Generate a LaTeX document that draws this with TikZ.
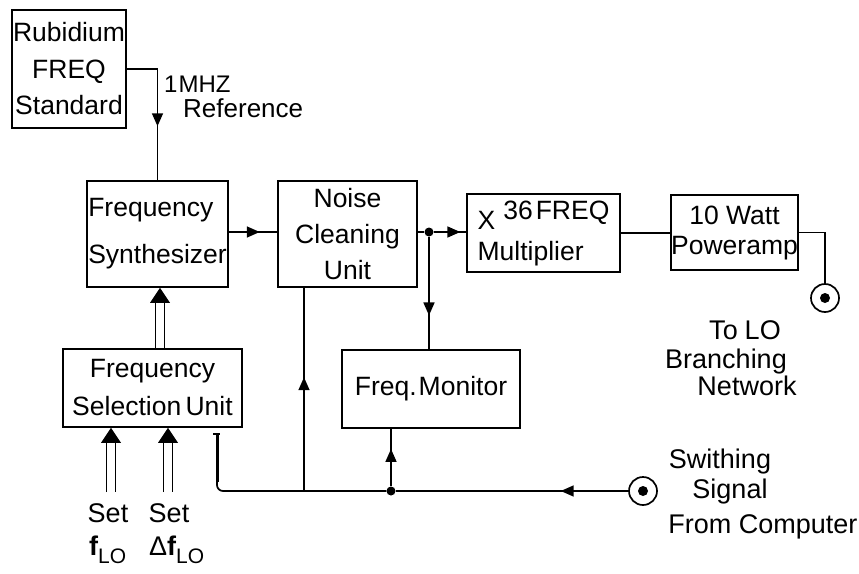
\documentclass[tikz,border=0pt]{standalone}
\usepackage{fontspec}
\setmainfont{Liberation Sans}
\usetikzlibrary{arrows.meta,decorations.markings,calc}
\tikzset{
  box/.style={draw, line width=1.7pt, inner sep=0.5pt, align=center, font=\fontsize{26.5}{#1}\selectfont},
  box/.default=37,
  wire/.style={line width=1.7pt},
  midarrow/.style={postaction={decorate}, decoration={markings, mark=at position #1 with {\arrow{Triangle[length=13pt,width=11pt]}}}},
  dotj/.style={circle, fill, inner sep=0pt, minimum size=9pt},
  jack/.style={circle, draw, line width=1.7pt, minimum size=28pt, inner sep=0pt,
    path picture={\fill (path picture bounding box.center) circle (5pt);}},
  lbl/.style={font=\fontsize{27}{30}\selectfont, inner sep=0pt},
  dbl/.style={double, double distance=7.5pt, line width=1.7pt},
}
\newcommand{\hollowup}[2]{\draw[dbl] (#1) -- ($(#2)+(0,14)$); \fill (#2) -- ++(-10,15) -- ++(20,0) -- cycle;}
\begin{document}
\begin{tikzpicture}[x=1pt,y=-1pt]
\fill[white] (0,0) rectangle (859,573);
\useasboundingbox (0,0) rectangle (859,573);

% boxes
\node[box=36.5, minimum width=114pt, minimum height=118pt] (rub) at (69,69) {Rubidium\\FREQ\\Standard};
\node[box=47, align=left, minimum width=141pt, minimum height=106pt] (syn) at (157.5,234) {Frequency\\Synthesizer};
\node[box=36, minimum width=139pt, minimum height=106pt] (noise) at (347.5,234) {Noise\\Cleaning\\Unit};
\node[box=31, align=left, minimum width=153pt, minimum height=78pt] (mult) at (543.5,233) {X\hspace{8pt}\raisebox{10pt}{36\hspace{3pt}FREQ}\\Multiplier};
\node[box=30, minimum width=127pt, minimum height=75pt] (pamp) at (734.5,232.5) {10 Watt\\Poweramp};
\node[box, minimum width=178pt, minimum height=78pt] (mon) at (431,389) {Freq.\hspace{2pt}Monitor};
\node[box=38, minimum width=179pt, minimum height=78pt] (sel) at (152.5,388) {Frequency\\Selection\hspace{-3pt} Unit};

% junctions and jacks
\node[dotj] (j1) at (429,232) {};
\node[dotj] (j2) at (391,491) {};
\coordinate (j3) at (304,491);
\node[jack] (out) at (825,298) {};
\node[jack] (inp) at (643,491) {};
\coordinate (c1) at (217,434);
\coordinate (xa) at (160,0);
\coordinate (xb) at (111,0);
\coordinate (xc) at (168,0);
\coordinate (fa) at (111,492);
\coordinate (fb) at (168,492);

% connectors
\draw[wire, midarrow=0.62] (rub.east) -| (syn.north);
\draw[wire, midarrow=0.64] (syn.east |- j1) -- (noise.west |- j1);
\draw[wire] (noise.east |- j1) -- (j1);
\draw[wire, midarrow=0.82] (j1) -- (mult.west |- j1);
\draw[wire] (mult.east) -- (pamp.west |- mult.east);
\draw[wire] (pamp.east) -| (out.north);
\draw[wire, midarrow=0.7] (j1) -- (mon.north -| j1);
\draw[wire, midarrow=0.29] (inp.west) -- (j2);
\draw[wire, midarrow=0.65] (j2) -- (mon.south -| j2);
\draw[wire, midarrow=0.56] (j3) -- (noise.south -| j3);
\draw[wire, rounded corners=6pt] (j2) -| (c1);
\draw[line width=3pt] (c1) -- ++(0,48);
\draw[line width=2pt] ($(c1)+(-4,0)$) -- ++(7,0);

% hollow arrows
\hollowup{sel.north -| xa}{syn.south -| xa}
\hollowup{fa}{sel.south -| xb}
\hollowup{fb}{sel.south -| xc}

% labels
\node[lbl, font=\fontsize{24}{28}\selectfont, anchor=base west] (l1) at (164,92) {1\hspace{1pt}MHZ};
\node[lbl, font=\fontsize{26}{28}\selectfont, anchor=base west] (l2) at (183,117) {Reference};
\node[lbl, anchor=base] (l3) at (745,339) {To\hspace{7pt}LO};
\node[lbl, anchor=base] (l4) at (726,368) {Branching};
\node[lbl, anchor=base] (l5) at (747,395) {Network};
\node[lbl, anchor=base] (l6) at (720,468) {Swithing};
\node[lbl, anchor=base] (l7) at (730,498) {Signal};
\node[lbl, anchor=base] (l8) at (763,533) {From Computer};
\node[lbl, anchor=base] (l9) at (108,522) {Set};
\node[lbl, anchor=base] (l10) at (169,522) {Set};
\node[lbl, anchor=base west] (l11) at (89,555) {\bfseries f\raisebox{-8pt}{\mdseries\fontsize{21}{21}\selectfont LO}};
\node[lbl, anchor=base west] (l12) at (149,555) {Δ\bfseries f\raisebox{-8pt}{\mdseries\fontsize{21}{21}\selectfont LO}};
\end{tikzpicture}
\end{document}
